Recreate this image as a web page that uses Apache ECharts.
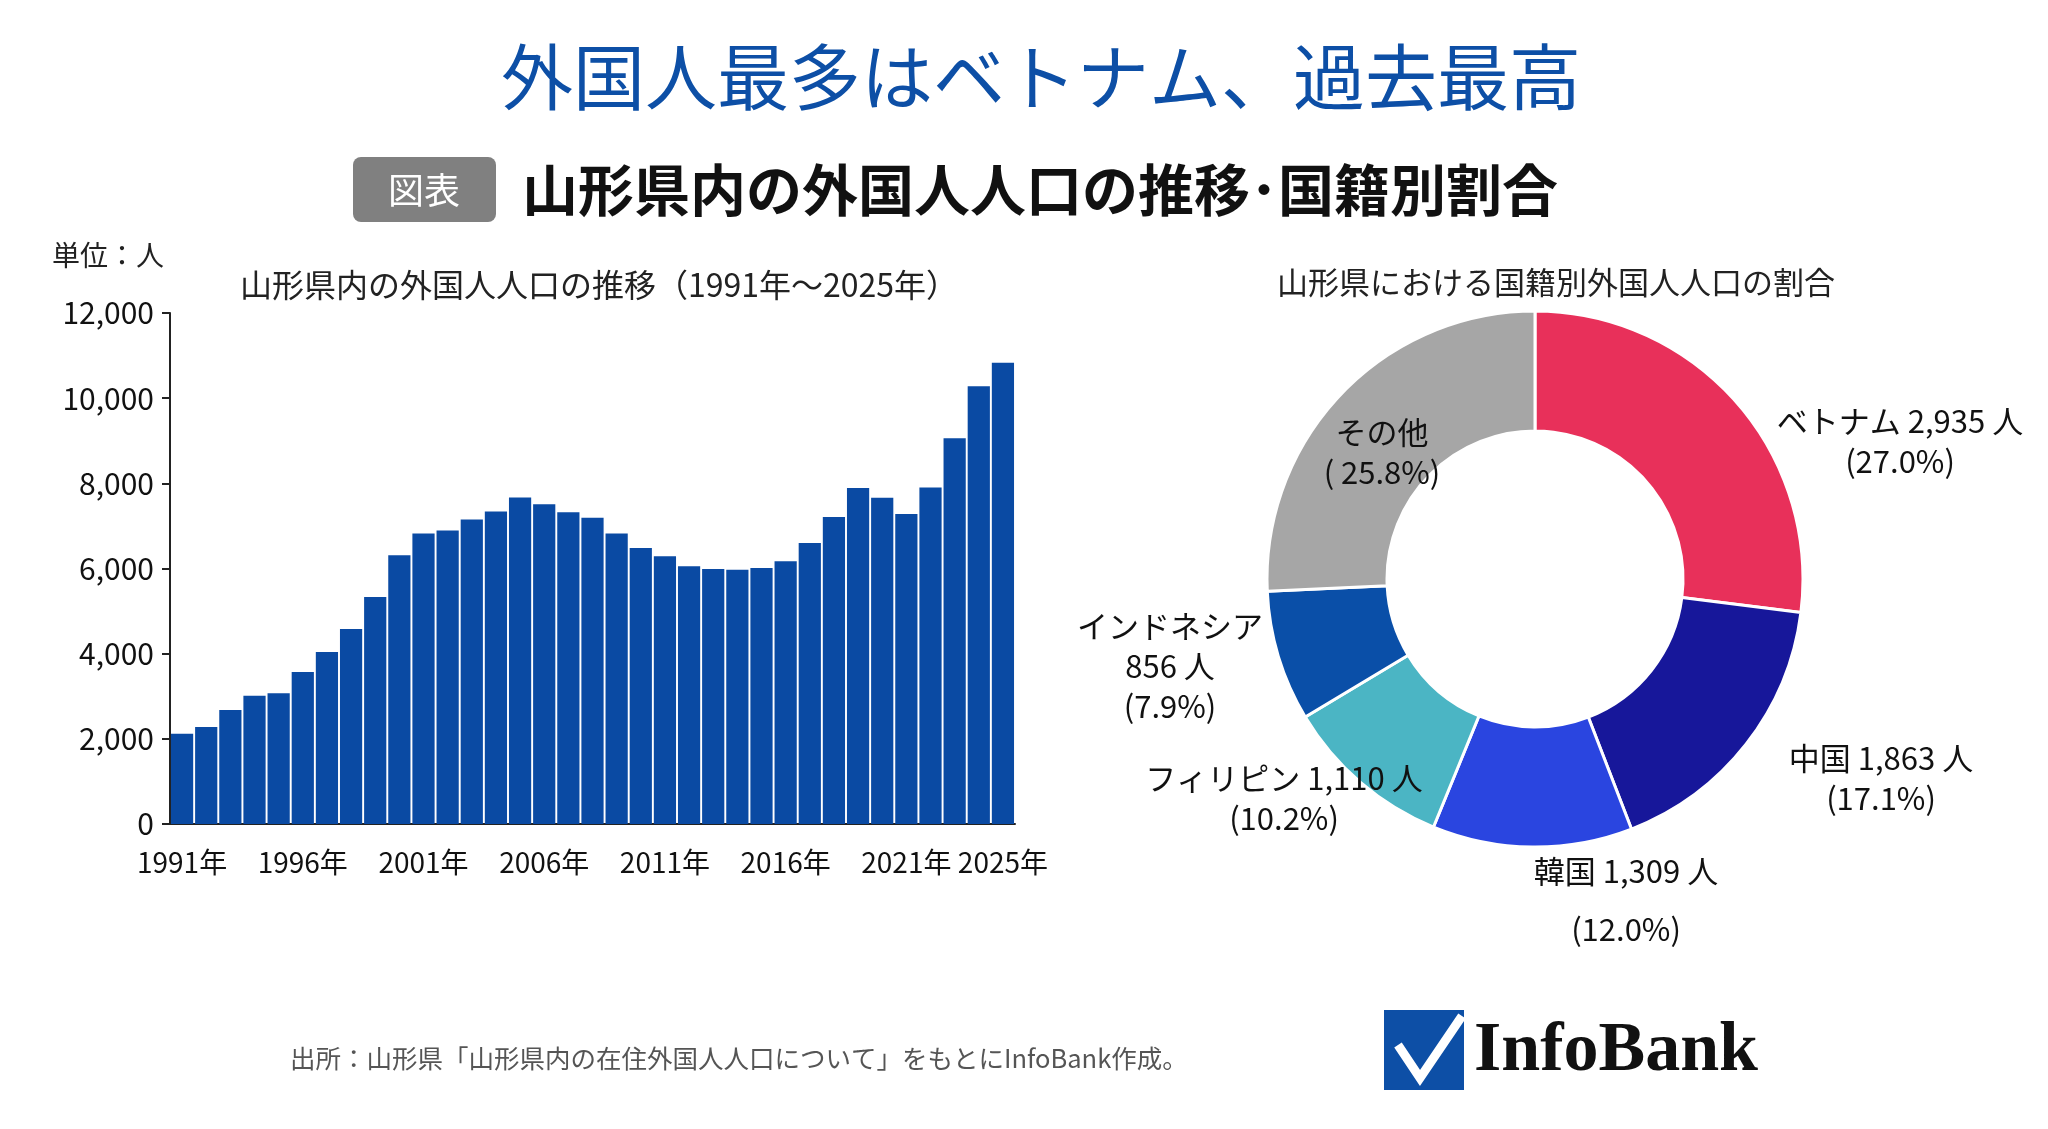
<!DOCTYPE html>
<html><head><meta charset="utf-8">
<script src="https://cdn.jsdelivr.net/npm/echarts@6/dist/echarts.min.js"></script>
<style>html,body{margin:0;padding:0;background:#fff}#c{width:2048px;height:1129px}</style>
</head><body><div id="c"></div>
<script>
const years = [];
for (let y = 1991; y <= 2025; y++) years.push(y + '年');
const population = [2120,2280,2680,3010,3070,3570,4040,4580,5330,6310,6820,6890,7150,7340,7670,7510,7320,7190,6820,6480,6290,6050,5990,5970,6010,6170,6600,7210,7890,7660,7280,7900,9060,10280,10830];
const yTicks = [0,2000,4000,6000,8000,10000,12000];
const nations = ['ベトナム','中国','韓国','フィリピン','インドネシア','その他'];
const nationCounts = [2935,1863,1309,1110,856,2797];
const nationPct = [27.0,17.1,12.0,10.2,7.9,25.8];
const nationColors = ['#e8305a','#17179a','#2a45e0','#4bb5c4','#0a4fa8','#a6a6a6'];

const F = '"Noto Sans CJK JP","Noto Sans",sans-serif';
const chart = echarts.init(document.getElementById('c'));
const labelFmt = i => i === 5 ? 'その他\n( ' + nationPct[i].toFixed(1) + '%)' :
  i === 4 ? nations[i] + '\n' + nationCounts[i].toLocaleString('en-US') + ' 人\n(' + nationPct[i].toFixed(1) + '%)' :
  nations[i] + ' ' + nationCounts[i].toLocaleString('en-US') + ' 人\n(' + nationPct[i].toFixed(1) + '%)';
const labelPos = [[1900,441],[1881,778],[1626,900],[1284,798],[1170,666],[1382,452]];
chart.setOption({
  textStyle:{fontFamily:F},
  title:[
    {text:'外国人最多はベトナム、過去最高',left:1036,textAlign:'center',top:36,textStyle:{fontFamily:F,fontSize:72,fontWeight:'normal',color:'#0d4fa6'}},
    {text:'山形県内の外国人人口の推移（1991年〜2025年）',left:594,textAlign:'center',top:264,textStyle:{fontFamily:F,fontSize:32,fontWeight:'normal',color:'#222'}},
    {text:'山形県における国籍別外国人人口の割合',left:1551,textAlign:'center',top:262,textStyle:{fontFamily:F,fontSize:31,fontWeight:'normal',color:'#222'}}
  ],
  graphic:[
    {type:'rect',shape:{x:353,y:157,width:143,height:65,r:8},style:{fill:'#808080'}},
    {type:'text',x:424,y:190,style:{text:'図表',fill:'#fff',font:'36px '+F,align:'center',verticalAlign:'middle'}},
    {type:'text',x:522,y:190,style:{text:'山形県内の外国人人口の推移･国籍別割合',fill:'#111',font:'bold 56px '+F,verticalAlign:'middle'}},
    {type:'text',x:52,y:255,style:{text:'単位：人',fill:'#222',font:'28px '+F,verticalAlign:'middle'}},
    {type:'text',x:290,y:1058,style:{text:'出所：山形県「山形県内の在住外国人人口について」をもとにInfoBank作成。',fill:'#555',font:'25.5px '+F,verticalAlign:'middle'}},
    {type:'rect',shape:{x:1384,y:1010,width:80,height:80},style:{fill:'#0d4fa6'}},
    {type:'polyline',shape:{points:[[1398,1045],[1420,1078],[1462,1016]]},style:{stroke:'#fff',lineWidth:9,fill:null}},
    {type:'text',x:1474,y:1052,style:{text:'InfoBank',fill:'#111',font:'bold 70px "Liberation Serif",serif',verticalAlign:'middle'}}
  ],
  grid:{left:170,right:1033,top:313,bottom:305,containLabel:false},
  xAxis:{type:'category',data:years,axisLine:{lineStyle:{color:'#222',width:2}},
    axisTick:{alignWithLabel:false,interval:0,lineStyle:{color:'#222',width:2},length:8},
    axisLabel:{interval:(i)=>i%5===0||i===years.length-1,fontSize:28,color:'#111',fontFamily:F,margin:24}},
  yAxis:{type:'value',min:0,max:12000,interval:2000,splitLine:{show:false},
    axisLine:{show:true,lineStyle:{color:'#222',width:2}},axisTick:{show:true,length:8,lineStyle:{color:'#222',width:2}},
    axisLabel:{fontSize:30,color:'#111',fontFamily:F,margin:16,formatter:v=>v.toLocaleString('en-US')}},
  series:[
    {type:'bar',data:population,barCategoryGap:'8%',itemStyle:{color:'#0a4aa3'},animation:false},
    {type:'pie',center:[1535,579],radius:[148,268],startAngle:90,clockwise:true,animation:false,
     itemStyle:{borderColor:'#fff',borderWidth:3},
     labelLine:{show:false},
     labelLayout:(p)=>({x:labelPos[p.dataIndex][0],y:labelPos[p.dataIndex][1],align:'center',verticalAlign:'middle'}),
     data:nations.map((n,i)=>({name:n,value:nationCounts[i],itemStyle:{color:nationColors[i]},
       label:{show:true,position:'outside',formatter:labelFmt(i),
         fontSize:31,color:'#111',fontFamily:F,lineHeight:i===2?58:40,align:'center'}}))}
  ]
});
</script></body></html>
